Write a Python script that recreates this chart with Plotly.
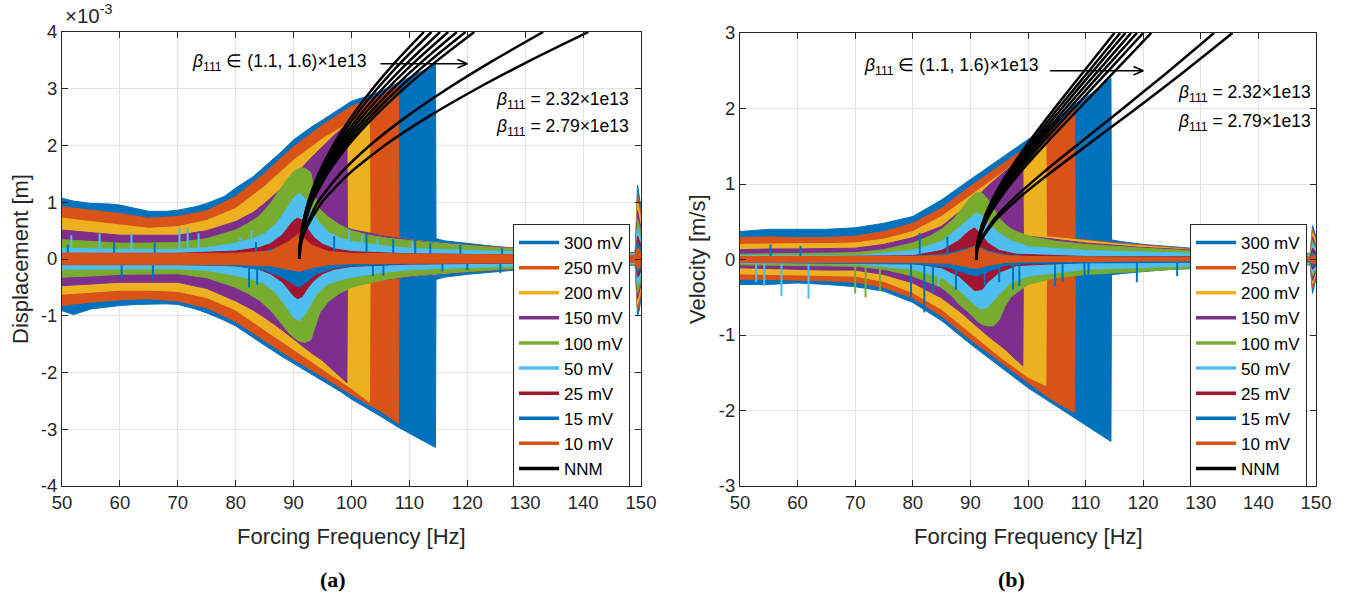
import plotly.graph_objects as go

W, H = 1346, 597

# ---------------- labels / colours ----------------
SERIES = ["300 mV", "250 mV", "200 mV", "150 mV", "100 mV", "50 mV", "25 mV", "15 mV", "10 mV"]
COLORS = ["#0072BD", "#D95319", "#EDB120", "#7E2F8E", "#77AC30", "#4DBEEE", "#A2142F", "#0072BD", "#D95319"]
X_TICKS = [50, 60, 70, 80, 90, 100, 110, 120, 130, 140, 150]
DISP_TICKS = [-4, -3, -2, -1, 0, 1, 2, 3, 4]
DISP_TICK_LABELS = ["-4", "-3", "-2", "-1", "0", "1", "2", "3", "4"]
VEL_TICKS = [-3, -2, -1, 0, 1, 2, 3]
VEL_TICK_LABELS = ["-3", "-2", "-1", "0", "1", "2", "3"]

# ---------------- displacement envelopes (x1e-3 m) ----------------
D300_F = [50, 52, 55, 58, 60, 63, 65, 68, 70, 73, 75, 78, 80, 83, 85, 88, 90, 93, 95, 98, 100, 103, 105, 108, 110, 112, 114.5,
          114.6, 116, 120, 125, 130, 135, 140, 145, 149, 149.4, 149.7, 150]
D300_UP = [1.07, 1.02, 0.98, 0.97, 0.95, 0.88, 0.84, 0.84, 0.86, 0.92, 0.98, 1.1, 1.25, 1.45, 1.63, 1.9, 2.1, 2.32, 2.45, 2.65, 2.78, 2.88, 2.95, 3.1, 3.2, 3.3, 3.45,
           0.36, 0.32, 0.27, 0.22, 0.18, 0.15, 0.13, 0.12, 0.11, 1.3, 1.1, 0.9]
D300_LO = [-0.91, -0.98, -0.88, -0.84, -0.82, -0.8, -0.79, -0.79, -0.8, -0.88, -0.95, -1.08, -1.18, -1.38, -1.52, -1.72, -1.85, -2.03, -2.15, -2.33, -2.47, -2.65, -2.77, -2.96, -3.07, -3.18, -3.32,
           -0.36, -0.32, -0.27, -0.22, -0.18, -0.15, -0.13, -0.12, -0.11, -1.0, -0.9, -0.7]

D250_F = [50, 55, 60, 65, 70, 75, 80, 85, 90, 95, 100, 105, 108.1,
          108.2, 110, 115, 120, 125, 130, 135, 140, 145, 149, 149.4, 149.7, 150]
D250_UP = [0.92, 0.86, 0.8, 0.72, 0.75, 0.85, 1.1, 1.51, 1.98, 2.36, 2.69, 2.88, 3.08,
           0.33, 0.31, 0.27, 0.24, 0.2, 0.17, 0.14, 0.12, 0.11, 0.1, 1.15, 1.0, 0.8]
D250_LO = [-0.82, -0.76, -0.72, -0.7, -0.74, -0.86, -1.1, -1.44, -1.77, -2.07, -2.39, -2.68, -2.9,
           -0.31, -0.29, -0.26, -0.23, -0.19, -0.16, -0.13, -0.11, -0.1, -0.09, -0.9, -0.8, -0.6]

D200_F = [50, 55, 60, 65, 70, 75, 80, 85, 90, 95, 100, 103.1,
          103.2, 105, 110, 115, 120, 125, 130, 135, 140, 145, 149, 149.4, 149.7, 150]
D200_UP = [0.72, 0.66, 0.6, 0.54, 0.57, 0.68, 0.89, 1.28, 1.74, 2.12, 2.42, 2.62,
           0.45, 0.42, 0.34, 0.28, 0.23, 0.19, 0.16, 0.13, 0.11, 0.1, 0.09, 1.0, 0.85, 0.7]
D200_LO = [-0.62, -0.58, -0.55, -0.55, -0.57, -0.68, -0.9, -1.25, -1.6, -1.94, -2.28, -2.52,
           -0.42, -0.38, -0.31, -0.26, -0.21, -0.17, -0.14, -0.12, -0.1, -0.09, -0.08, -0.8, -0.7, -0.5]

D150_F = [50, 55, 60, 65, 70, 75, 80, 83, 85, 88, 90, 93, 95, 97, 99.2,
          99.3, 100, 105, 110, 115, 120, 125, 130, 135, 140, 145, 149, 149.4, 149.7, 150]
D150_UP = [0.51, 0.47, 0.42, 0.42, 0.42, 0.5, 0.66, 0.82, 0.98, 1.25, 1.45, 1.78, 1.98, 2.18, 2.38,
           0.55, 0.52, 0.42, 0.34, 0.27, 0.22, 0.18, 0.15, 0.12, 0.1, 0.09, 0.08, 0.85, 0.7, 0.55]
D150_LO = [-0.47, -0.44, -0.41, -0.41, -0.41, -0.52, -0.74, -0.9, -1.03, -1.25, -1.41, -1.65, -1.79, -1.98, -2.18,
           -0.5, -0.48, -0.38, -0.31, -0.25, -0.2, -0.16, -0.13, -0.11, -0.09, -0.08, -0.07, -0.7, -0.6, -0.45]

D100_F = [50, 55, 60, 65, 70, 75, 80, 82, 84, 86, 88, 89, 90, 91, 92, 93, 93.7, 94.5, 96, 98, 100, 103, 106, 110, 115, 120,
          130, 140, 145, 149, 149.4, 149.7, 150]
D100_UP = [0.34, 0.31, 0.28, 0.28, 0.29, 0.36, 0.51, 0.62, 0.75, 0.98, 1.28, 1.42, 1.54, 1.6, 1.6, 1.52, 1.1, 0.88, 0.74, 0.6, 0.5, 0.42,
           0.37, 0.32, 0.27, 0.23, 0.16, 0.12, 0.1, 0.09, 0.7, 0.6, 0.45]
D100_LO = [-0.32, -0.3, -0.27, -0.26, -0.26, -0.33, -0.5, -0.6, -0.72, -0.9, -1.15, -1.28, -1.38, -1.45, -1.47, -1.42, -1.2, -0.95,
           -0.75, -0.6, -0.5, -0.42, -0.36, -0.3, -0.25, -0.21, -0.15, -0.11, -0.1, -0.09, -0.6, -0.5, -0.4]

D50_F = [50, 60, 70, 75, 80, 83, 85, 87, 88, 89, 90, 91, 92, 93, 94, 95, 96, 98, 100, 105, 110, 120, 130, 140, 149, 149.4, 149.7, 150]
D50_UP = [0.19, 0.17, 0.17, 0.2, 0.28, 0.36, 0.45, 0.62, 0.76, 0.92, 1.08, 1.16, 1.06, 0.88, 0.7, 0.58, 0.47, 0.37, 0.31, 0.24,
          0.19, 0.15, 0.12, 0.1, 0.08, 0.55, 0.45, 0.35]
D50_LO = [-0.18, -0.17, -0.17, -0.2, -0.29, -0.36, -0.44, -0.6, -0.74, -0.88, -1.03, -1.09, -0.97, -0.8, -0.62, -0.52, -0.44,
          -0.37, -0.32, -0.24, -0.19, -0.15, -0.12, -0.1, -0.08, -0.45, -0.4, -0.3]

D25_F = [50, 70, 80, 84, 86, 88, 89, 90, 90.7, 91.5, 92.5, 93.5, 95, 97, 100, 110, 130, 149, 149.4, 149.7, 150]
D25_UP = [0.1, 0.1, 0.14, 0.2, 0.27, 0.42, 0.55, 0.68, 0.72, 0.68, 0.52, 0.38, 0.26, 0.18, 0.13, 0.09, 0.07, 0.05, 0.4, 0.32, 0.25]
D25_LO = [-0.08, -0.08, -0.12, -0.18, -0.26, -0.4, -0.52, -0.65, -0.7, -0.66, -0.5, -0.38, -0.26, -0.18, -0.13, -0.09, -0.07,
          -0.05, -0.32, -0.28, -0.2]

D15_F = [50, 70, 80, 85, 88, 90, 91, 92, 94, 97, 100, 110, 130, 149, 149.4, 149.7, 150]
D15_UP = [0.06, 0.06, 0.08, 0.14, 0.22, 0.3, 0.33, 0.28, 0.17, 0.1, 0.08, 0.06, 0.05, 0.04, 0.3, 0.25, 0.18]
D15_LO = [-0.1, -0.1, -0.12, -0.2, -0.32, -0.45, -0.5, -0.42, -0.26, -0.16, -0.12, -0.08, -0.06, -0.05, -0.25, -0.2, -0.15]

D10_F = [50, 80, 86, 89, 91, 93, 96, 100, 120, 149, 149.4, 149.7, 150]
D10_UP = [0.1, 0.1, 0.14, 0.3, 0.45, 0.25, 0.13, 0.1, 0.08, 0.06, 0.2, 0.17, 0.12]
D10_LO = [-0.1, -0.1, -0.12, -0.18, -0.22, -0.16, -0.1, -0.08, -0.07, -0.06, -0.18, -0.15, -0.1]

# spikes (frequency, tip value) in the displacement record
D_SPIKE50_F = [51.6, 56.5, 62, 70.3, 71.7, 73.6, 80.8, 82.7, 87, 96.8, 99.6, 101.8, 104.5, 110.5]
D_SPIKE50_Y = [0.42, 0.45, 0.45, 0.55, 0.55, 0.45, 0.38, 0.5, 0.42, 0.45, 0.5, 0.42, 0.35, 0.3]
D_SPIKE15_F = [51, 59, 66, 83.5, 97, 102.6, 107.2, 111, 113.6, 118.8, 126, 133,
               60.3, 65.7, 82.3, 83.7, 103.7, 105.5, 115.7, 120, 125.7]
D_SPIKE15_Y = [0.25, 0.3, 0.28, 0.3, 0.4, 0.45, 0.35, 0.35, 0.28, 0.25, 0.2, 0.2,
               -0.35, -0.35, -0.5, -0.45, -0.3, -0.3, -0.22, -0.2, -0.25]

# ---------------- velocity envelopes (m/s) ----------------
V300_F = [50, 55, 60, 65, 70, 75, 80, 85, 90, 95, 100, 104, 108, 111, 114.4,
          114.5, 116, 120, 125, 130, 135, 140, 145, 149, 149.4, 149.7, 150]
V300_UP = [0.37, 0.40, 0.40, 0.40, 0.42, 0.48, 0.57, 0.79, 1.06, 1.32, 1.59, 1.78, 2.05, 2.2, 2.4,
           0.26, 0.24, 0.2, 0.17, 0.14, 0.12, 0.1, 0.09, 0.08, 0.45, 0.38, 0.3]
V300_LO = [-0.33, -0.33, -0.31, -0.33, -0.36, -0.42, -0.57, -0.81, -1.12, -1.41, -1.7, -1.9, -2.1, -2.24, -2.41,
           -0.2, -0.19, -0.16, -0.13, -0.11, -0.1, -0.09, -0.08, -0.07, -0.45, -0.35, -0.25]

V250_F = [50, 55, 60, 65, 70, 75, 80, 85, 90, 95, 100, 104, 108.1,
          108.2, 110, 115, 120, 125, 130, 135, 140, 145, 149, 149.4, 149.7, 150]
V250_UP = [0.29, 0.3, 0.29, 0.29, 0.31, 0.37, 0.48, 0.68, 0.97, 1.23, 1.5, 1.72, 1.99,
           0.27, 0.26, 0.22, 0.19, 0.16, 0.13, 0.11, 0.1, 0.09, 0.08, 0.4, 0.33, 0.26]
V250_LO = [-0.26, -0.27, -0.27, -0.28, -0.3, -0.37, -0.51, -0.75, -1.06, -1.34, -1.63, -1.85, -2.03,
           -0.19, -0.18, -0.16, -0.14, -0.12, -0.1, -0.09, -0.08, -0.07, -0.06, -0.38, -0.3, -0.22]

V200_F = [50, 55, 60, 65, 70, 75, 80, 85, 90, 95, 100, 103.1,
          103.2, 105, 110, 115, 120, 125, 130, 140, 149, 149.4, 149.7, 150]
V200_UP = [0.2, 0.21, 0.21, 0.21, 0.22, 0.27, 0.37, 0.57, 0.84, 1.12, 1.41, 1.66,
           0.3, 0.29, 0.25, 0.21, 0.18, 0.15, 0.12, 0.09, 0.07, 0.35, 0.3, 0.22]
V200_LO = [-0.19, -0.2, -0.2, -0.21, -0.22, -0.29, -0.44, -0.66, -0.97, -1.28, -1.56, -1.67,
           -0.17, -0.16, -0.14, -0.12, -0.1, -0.09, -0.08, -0.06, -0.05, -0.32, -0.26, -0.2]

V150_F = [50, 55, 60, 65, 70, 75, 80, 85, 88, 90, 93, 96, 99.1,
          99.2, 100, 105, 110, 115, 120, 130, 140, 149, 149.4, 149.7, 150]
V150_UP = [0.13, 0.14, 0.14, 0.15, 0.15, 0.2, 0.29, 0.44, 0.62, 0.75, 0.97, 1.17, 1.36,
           0.32, 0.31, 0.26, 0.22, 0.19, 0.16, 0.12, 0.09, 0.06, 0.3, 0.25, 0.18]
V150_LO = [-0.11, -0.12, -0.13, -0.14, -0.14, -0.2, -0.31, -0.51, -0.68, -0.81, -1.01, -1.19, -1.41,
           -0.2, -0.19, -0.16, -0.14, -0.12, -0.1, -0.08, -0.06, -0.05, -0.28, -0.22, -0.16]

V100_F = [50, 60, 70, 75, 80, 83, 85, 87, 88, 89, 90, 91, 92, 93, 94, 95, 96, 97, 98, 100, 105, 110, 120, 130, 140, 149,
          149.4, 149.7, 150]
V100_UP = [0.07, 0.08, 0.09, 0.13, 0.22, 0.31, 0.4, 0.53, 0.62, 0.72, 0.82, 0.88, 0.88, 0.8, 0.68, 0.55, 0.47, 0.41, 0.37,
           0.31, 0.24, 0.2, 0.15, 0.11, 0.08, 0.07, 0.25, 0.2, 0.15]
V100_LO = [-0.07, -0.08, -0.09, -0.13, -0.22, -0.31, -0.37, -0.5, -0.59, -0.65, -0.72, -0.8, -0.86, -0.88, -0.88, -0.8,
           -0.62, -0.5, -0.44, -0.33, -0.24, -0.2, -0.15, -0.11, -0.08, -0.07, -0.22, -0.18, -0.14]

V50_F = [50, 70, 80, 85, 88, 90, 91, 92, 93, 95, 97, 100, 110, 130, 149, 149.4, 149.7, 150]
V50_UP = [0.05, 0.05, 0.12, 0.24, 0.42, 0.56, 0.62, 0.58, 0.48, 0.35, 0.25, 0.17, 0.12, 0.08, 0.05, 0.2, 0.16, 0.12]
V50_LO = [-0.05, -0.06, -0.13, -0.24, -0.4, -0.55, -0.62, -0.66, -0.63, -0.46, -0.31, -0.22, -0.13, -0.08, -0.05, -0.18,
          -0.15, -0.11]

V25_F = [50, 80, 85, 88, 89.5, 90.7, 92, 93, 95, 98, 110, 149, 149.4, 149.7, 150]
V25_UP = [0.03, 0.05, 0.12, 0.25, 0.36, 0.42, 0.32, 0.22, 0.12, 0.07, 0.04, 0.03, 0.15, 0.12, 0.09]
V25_LO = [-0.03, -0.05, -0.11, -0.22, -0.32, -0.41, -0.4, -0.3, -0.17, -0.08, -0.04, -0.03, -0.13, -0.1, -0.08]

V15_F = [50, 80, 86, 89, 91, 93, 96, 100, 120, 149, 149.4, 149.7, 150]
V15_UP = [0.03, 0.04, 0.08, 0.14, 0.18, 0.12, 0.06, 0.04, 0.03, 0.02, 0.1, 0.08, 0.06]
V15_LO = [-0.04, -0.06, -0.1, -0.18, -0.22, -0.16, -0.08, -0.05, -0.04, -0.03, -0.1, -0.08, -0.06]

V10_F = [50, 80, 86, 89, 91, 93, 96, 100, 120, 149, 149.4, 149.7, 150]
V10_UP = [0.04, 0.04, 0.06, 0.12, 0.18, 0.1, 0.05, 0.04, 0.03, 0.03, 0.06, 0.05, 0.04]
V10_LO = [-0.04, -0.04, -0.05, -0.09, -0.12, -0.08, -0.04, -0.03, -0.02, -0.02, -0.06, -0.05, -0.04]

V_SPIKE100_F = [70.0, 71.8, 74.3]
V_SPIKE100_Y = [-0.45, -0.5, -0.42]
V_SPIKE50_F = [52.8, 54.2, 57.2, 61.9, 84.5, 88.5]
V_SPIKE50_Y = [-0.3, -0.35, -0.48, -0.52, -0.35, -0.3]
V_SPIKE15_F = [55.3, 60.5, 79.7, 81.2, 82.0, 83.5, 86.0, 87.5, 92.5, 95.0, 97.4, 98.5, 104.7, 106, 109.8, 110.5, 118.9,
               125.9, 132]
V_SPIKE15_Y = [0.2, 0.18, -0.5, 0.35, -0.7, -0.45, 0.3, -0.4, -0.35, -0.3, -0.4, -0.35, -0.35, -0.3, -0.5, -0.4, -0.3,
               -0.22, 0.15]

# ---------------- NNM backbones ----------------
NNM_DISP_LEVELS = [0, 0.25, 0.5, 1, 1.5, 2, 2.5, 3, 3.5, 4]
NNM_DISP_F1 = [91.0, 91.09, 91.37, 92.49, 94.32, 96.82, 99.95, 103.64, 107.85, 112.5]
NNM_DISP_F2 = [91.0, 91.10, 91.40, 92.59, 94.54, 97.20, 100.52, 104.44, 108.88, 113.8]
NNM_DISP_F3 = [91.0, 91.11, 91.43, 92.71, 94.79, 97.64, 101.19, 105.36, 110.09, 115.3]
NNM_DISP_F4 = [91.0, 91.11, 91.46, 92.82, 95.04, 98.06, 101.81, 106.22, 111.21, 116.7]
NNM_DISP_F5 = [91.0, 91.12, 91.49, 92.93, 95.30, 98.51, 102.49, 107.15, 112.42, 118.2]
NNM_DISP_F6 = [91.0, 91.13, 91.52, 93.05, 95.56, 98.96, 103.17, 108.09, 113.63, 119.7]
NNM_DISP_F7 = [91.0, 91.14, 91.55, 93.17, 95.82, 99.41, 103.85, 109.02, 114.84, 121.2]
NNM_DISP_F8 = [91.0, 91.20, 91.81, 94.18, 98.02, 103.15, 109.39, 116.57, 124.52, 133.1]
NNM_DISP_F9 = [91.0, 91.25, 91.99, 94.89, 99.54, 105.71, 113.14, 121.62, 130.92, 140.9]

NNM_VEL_F1 = [91.0, 91.11, 91.42, 92.68, 94.74, 97.56, 101.06, 105.18, 109.85, 115.0]
NNM_VEL_V1 = [0, 0.149, 0.298, 0.604, 0.927, 1.273, 1.648, 2.058, 2.507, 3.0]
NNM_VEL_F2 = [91.0, 91.11, 91.44, 92.76, 94.91, 97.85, 101.50, 105.79, 110.65, 116.0]
NNM_VEL_V2 = [0, 0.147, 0.296, 0.600, 0.921, 1.265, 1.641, 2.052, 2.504, 3.0]
NNM_VEL_F3 = [91.0, 91.12, 91.46, 92.83, 95.07, 98.12, 101.90, 106.35, 111.37, 116.9]
NNM_VEL_V3 = [0, 0.146, 0.293, 0.596, 0.915, 1.259, 1.634, 2.047, 2.501, 3.0]
NNM_VEL_F4 = [91.0, 91.12, 91.48, 92.91, 95.24, 98.42, 102.35, 106.97, 112.18, 117.9]
NNM_VEL_V4 = [0, 0.145, 0.291, 0.591, 0.909, 1.252, 1.628, 2.041, 2.498, 3.0]
NNM_VEL_F5 = [91.0, 91.13, 91.50, 92.99, 95.42, 98.72, 102.80, 107.59, 112.98, 118.9]
NNM_VEL_V5 = [0, 0.144, 0.289, 0.587, 0.903, 1.245, 1.621, 2.036, 2.494, 3.0]
NNM_VEL_F6 = [91.0, 91.13, 91.52, 93.08, 95.61, 99.05, 103.30, 108.27, 113.87, 120.0]
NNM_VEL_V6 = [0, 0.142, 0.286, 0.582, 0.896, 1.238, 1.614, 2.030, 2.491, 3.0]
NNM_VEL_F7 = [91.0, 91.14, 91.55, 93.19, 95.86, 99.47, 103.94, 109.15, 115.00, 121.4]
NNM_VEL_V7 = [0, 0.141, 0.283, 0.576, 0.888, 1.229, 1.605, 2.023, 2.487, 3.0]
NNM_VEL_F8 = [91.0, 91.20, 91.79, 94.11, 97.87, 102.89, 109.01, 116.05, 123.86, 132.3]
NNM_VEL_V8 = [0, 0.129, 0.260, 0.534, 0.832, 1.167, 1.545, 1.974, 2.458, 3.0]
NNM_VEL_F9 = [91.0, 91.22, 91.86, 94.40, 98.48, 103.93, 110.54, 118.11, 126.48, 135.5]
NNM_VEL_V9 = [0, 0.126, 0.254, 0.523, 0.818, 1.151, 1.530, 1.961, 2.450, 3.0]

# ---------------- build figure ----------------
FONT = "Liberation Sans, Arial, Helvetica, sans-serif"
TXT = "#262626"

DISP_BANDS = [(D300_F, D300_UP, D300_LO), (D250_F, D250_UP, D250_LO), (D200_F, D200_UP, D200_LO),
              (D150_F, D150_UP, D150_LO), (D100_F, D100_UP, D100_LO), (D50_F, D50_UP, D50_LO),
              (D25_F, D25_UP, D25_LO), (D15_F, D15_UP, D15_LO), (D10_F, D10_UP, D10_LO)]
VEL_BANDS = [(V300_F, V300_UP, V300_LO), (V250_F, V250_UP, V250_LO), (V200_F, V200_UP, V200_LO),
             (V150_F, V150_UP, V150_LO), (V100_F, V100_UP, V100_LO), (V50_F, V50_UP, V50_LO),
             (V25_F, V25_UP, V25_LO), (V15_F, V15_UP, V15_LO), (V10_F, V10_UP, V10_LO)]

fig = go.Figure()


def spikes(xs, ys, color, xa, ya):
    sx, sy = [], []
    for f, v in zip(xs, ys):
        sx += [f, f, None]
        sy += [0, v, None]
    fig.add_trace(go.Scatter(x=sx, y=sy, mode="lines", line=dict(color=color, width=2),
                             xaxis=xa, yaxis=ya, showlegend=False, hoverinfo="skip"))


def bands(blist, xa, ya, spike_map):
    for i, (f, up, lo) in enumerate(blist):
        fig.add_trace(go.Scatter(x=list(f) + list(f)[::-1], y=list(up) + list(lo)[::-1],
                                 fill="toself", fillcolor=COLORS[i], mode="lines",
                                 line=dict(color=COLORS[i], width=1),
                                 xaxis=xa, yaxis=ya, showlegend=False, hoverinfo="skip"))
        if i in spike_map:
            for sxs, sys in spike_map[i]:
                spikes(sxs, sys, COLORS[i], xa, ya)


bands(DISP_BANDS, "x", "y", {5: [(D_SPIKE50_F, D_SPIKE50_Y)], 7: [(D_SPIKE15_F, D_SPIKE15_Y)]})
bands(VEL_BANDS, "x2", "y2", {4: [(V_SPIKE100_F, V_SPIKE100_Y)], 5: [(V_SPIKE50_F, V_SPIKE50_Y)],
                              7: [(V_SPIKE15_F, V_SPIKE15_Y)]})

for fcur in [NNM_DISP_F1, NNM_DISP_F2, NNM_DISP_F3, NNM_DISP_F4, NNM_DISP_F5, NNM_DISP_F6, NNM_DISP_F7,
             NNM_DISP_F8, NNM_DISP_F9]:
    fig.add_trace(go.Scatter(x=fcur, y=NNM_DISP_LEVELS, mode="lines",
                             line=dict(color="black", width=2.5, shape="spline", smoothing=0.6),
                             xaxis="x", yaxis="y", showlegend=False, hoverinfo="skip"))
for fcur, vcur in [(NNM_VEL_F1, NNM_VEL_V1), (NNM_VEL_F2, NNM_VEL_V2), (NNM_VEL_F3, NNM_VEL_V3),
                   (NNM_VEL_F4, NNM_VEL_V4), (NNM_VEL_F5, NNM_VEL_V5), (NNM_VEL_F6, NNM_VEL_V6),
                   (NNM_VEL_F7, NNM_VEL_V7), (NNM_VEL_F8, NNM_VEL_V8), (NNM_VEL_F9, NNM_VEL_V9)]:
    fig.add_trace(go.Scatter(x=fcur, y=vcur, mode="lines",
                             line=dict(color="black", width=2.5, shape="spline", smoothing=0.6),
                             xaxis="x2", yaxis="y2", showlegend=False, hoverinfo="skip"))

# legend entries
for lg in ["legend", "legend2"]:
    for name, col in zip(SERIES + ["NNM"], COLORS + ["black"]):
        fig.add_trace(go.Scatter(x=[None], y=[None], mode="lines", line=dict(color=col, width=3.5),
                                 name=name, legend=lg, showlegend=True,
                                 xaxis="x" if lg == "legend" else "x2", yaxis="y" if lg == "legend" else "y2"))


def px(x):
    return x / W


def py(y):
    return 1 - y / H


axis_common = dict(showline=True, linecolor=TXT, linewidth=1, mirror="allticks", ticks="inside", ticklen=6,
                   tickcolor=TXT, showgrid=True, gridcolor="#e3e3e3", gridwidth=1, zeroline=False,
                   automargin=False, tickfont=dict(family=FONT, size=18.5, color=TXT))

leg_common = dict(xanchor="left", yanchor="top", bgcolor="white", bordercolor=TXT, borderwidth=1,
                  font=dict(family=FONT, size=17, color="black"), itemwidth=40, tracegroupgap=0)

fig.update_layout(
    width=W, height=H, margin=dict(l=0, r=0, t=0, b=0, autoexpand=False),
    paper_bgcolor="white", plot_bgcolor="white",
    xaxis=dict(domain=[px(62), px(641)], range=[50, 150], tickvals=X_TICKS, anchor="y", **axis_common),
    yaxis=dict(domain=[py(486), py(32)], range=[-4, 4], tickvals=DISP_TICKS, ticktext=DISP_TICK_LABELS,
               anchor="x", **axis_common),
    xaxis2=dict(domain=[px(740), px(1316)], range=[50, 150], tickvals=X_TICKS, anchor="y2", **axis_common),
    yaxis2=dict(domain=[py(486), py(33)], range=[-3, 3], tickvals=VEL_TICKS, ticktext=VEL_TICK_LABELS,
                anchor="x2", **axis_common),
    legend=dict(x=px(513), y=py(224), **leg_common),
    legend2=dict(x=px(1190), y=py(224), **leg_common),
    showlegend=True,
)

ann = []
tfont = dict(family=FONT, size=22, color=TXT)


def label(text, x, y, font, angle=0, xa="center", ya="middle"):
    ann.append(dict(text=text, x=px(x), y=py(y), xref="paper", yref="paper", xanchor=xa, yanchor=ya,
                    textangle=angle, showarrow=False, font=font))


# axis titles
label("Forcing Frequency [Hz]", 351, 536, tfont)
label("Forcing Frequency [Hz]", 1028, 536, tfont)
label("Displacement [m]", 21, 259, tfont, angle=-90)
label("Velocity [m/s]", 698, 259, tfont, angle=-90)
label("×10<sup>-3</sup>", 63, 14, dict(family=FONT, size=20.5, color=TXT), xa="left")
# sub-figure labels
for lab, xc in [("(a)", 333), ("(b)", 1011)]:
    label("<b>" + lab + "</b>", xc, 579, dict(family="Liberation Serif, DejaVu Serif, serif", size=22, color="black"))

bfont = dict(family=FONT, size=17.5, color="black")
BETA = "<i>β</i><sub>111</sub>"


def note(text, x, y, xr, yr):
    ann.append(dict(text=text, x=x, y=y, xref=xr, yref=yr, xanchor="right", yanchor="middle",
                    showarrow=False, font=bfont))


# left panel texts
note(BETA + " ∈ (1.1, 1.6)×1e13", 103.0, 3.47, "x", "y")
note(BETA + " = 2.32×1e13", 148.3, 2.8, "x", "y")
note(BETA + " = 2.79×1e13", 148.3, 2.31, "x", "y")
# right panel texts
note(BETA + " ∈ (1.1, 1.6)×1e13", 102.2, 2.55, "x2", "y2")
note(BETA + " = 2.32×1e13", 149.4, 2.2, "x2", "y2")
note(BETA + " = 2.79×1e13", 149.4, 1.82, "x2", "y2")
fig.update_layout(annotations=ann)

# arrows (open V head)
shapes = []
for xr, yr, x0, x1, yv, dx, dy in [("x", "y", 105.0, 120.0, 3.44, 1.7, 0.075),
                                   ("x2", "y2", 103.8, 120.0, 2.5, 1.7, 0.055)]:
    shapes.append(dict(type="line", xref=xr, yref=yr, x0=x0, x1=x1, y0=yv, y1=yv,
                       line=dict(color="black", width=1.6)))
    shapes.append(dict(type="line", xref=xr, yref=yr, x0=x1 - dx, x1=x1, y0=yv + dy, y1=yv,
                       line=dict(color="black", width=1.6)))
    shapes.append(dict(type="line", xref=xr, yref=yr, x0=x1 - dx, x1=x1, y0=yv - dy, y1=yv,
                       line=dict(color="black", width=1.6)))
fig.update_layout(shapes=shapes)

fig.write_html("out.html")
